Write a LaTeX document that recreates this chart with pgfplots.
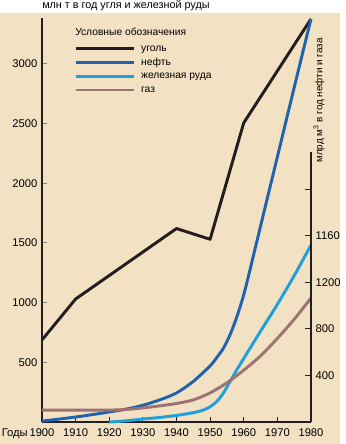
\documentclass[border=0pt]{standalone}
\usepackage{pgfplots}
\pgfplotsset{compat=1.18}
\usepackage{fontspec}
\setmainfont{Liberation Sans}
\definecolor{bg}{HTML}{F2E1C3}
\definecolor{coal}{HTML}{221E1F}
\definecolor{oil}{HTML}{1F62AE}
\definecolor{ore}{HTML}{1FA0DC}
\definecolor{gas}{HTML}{9C7272}
\definecolor{axc}{HTML}{231F20}
\begin{document}
\begin{tikzpicture}[x=1pt,y=1pt]
\fill[white] (-31.5,-16.5) rectangle (223.5,316.5);
\fill[bg] (-31.5,-16.5) rectangle (223.5,306.75);
\node[anchor=base west, inner sep=0pt, font=\fontsize{8.1}{9}\selectfont] at (0,310.5) {млн т в год угля и железной руды};
\node[anchor=base west, inner sep=0pt, font=\fontsize{7.7}{9}\selectfont] at (24.75,290.0) {Условные обозначения};
\node[rotate=90, inner sep=0pt, font=\fontsize{7.4}{9}\selectfont] at (207.75,241.1) {млрд м\textsuperscript{3} в год нефти и газа};
\begin{axis}[
  at={(0,0)}, anchor=south west, scale only axis,
  width=201.75pt, height=303pt,
  xmin=1900, xmax=1980, ymin=0, ymax=3383,
  axis x line=bottom, axis y line=left,
  axis line style={line width=1.6pt, color=axc, -},
  clip=false,
  xtick={1900,1910,1920,1930,1940,1950,1960,1970,1980},
  xticklabels={\llap{Годы\,}1900,1910,1920,1930,1940,1950,1960,1970,1980},
  ytick={500,1000,1500,2000,2500,3000},
  /pgf/number format/1000 sep={},
  /pgf/number format/assume math mode=true,
  tick align=inside, major tick length=3.5pt,
  x tick style={line width=0.6pt, color=axc},
  y tick style={line width=0.6pt, color=gray},
  ticklabel style={font=\fontsize{8.4}{9}\selectfont},
  xticklabel style={yshift=-1.3pt},
  legend style={at={(rel axis cs:0.119,0.936)}, anchor=north west, draw=none, fill=none,
    inner sep=0pt, row sep=3.3pt, column sep=4.5pt, font=\fontsize{7.7}{9}\selectfont,
    cells={anchor=west}, nodes={inner sep=0pt, text height=5.5pt, text depth=1.5pt}},
  legend image code/.code={\draw[#1, line width=2.2pt] (0pt,0pt) -- (43.5pt,0pt);},
  every axis plot/.append style={line width=2.2pt},
]
\addplot[coal, line join=round] coordinates {(1900,687) (1910,1030) (1940,1620) (1950,1530) (1960,2505) (1980,3375)};
\addlegendentry{уголь}
\addplot[oil, smooth] coordinates {(1900,8) (1905,24) (1910,42) (1915,62) (1920,84) (1925,108) (1930,140) (1935,185) (1940,243) (1945,340) (1950,470) (1952,540) (1954,620) (1956,735) (1958,885) (1960,1065) (1962,1290) (1965,1640) (1970,2220) (1975,2800) (1980,3375)};
\addlegendentry{нефть}
\addplot[ore, smooth] coordinates {(1920,0) (1925,10) (1930,25) (1935,38) (1940,55) (1945,78) (1948,100) (1950,128) (1952,172) (1954,245) (1956,342) (1958,440) (1960,532) (1965,760) (1970,985) (1975,1225) (1980,1482)};
\addlegendentry{железная руда}
\addplot[gas, smooth] coordinates {(1900,100) (1910,100) (1920,100) (1925,105) (1930,118) (1935,135) (1940,155) (1945,185) (1950,244) (1955,328) (1960,434) (1965,554) (1970,700) (1975,860) (1980,1038)};
\addlegendentry{газ}
\end{axis}
\begin{axis}[
  at={(0,0)}, anchor=south west, scale only axis,
  width=201.75pt, height=202.5pt,
  xmin=1900, xmax=1980, ymin=0, ymax=2318,
  axis y line=right, axis x line=none, xtick=\empty,
  axis line style={line width=1.6pt, color=axc, -},
  ytick={400,800,1200,1600,2000},
  yticklabels={400,800,1200,1160,{}},
  tick align=inside, major tick length=4.5pt,
  y tick style={line width=0.6pt, color=axc},
  ticklabel style={font=\fontsize{8.4}{9}\selectfont},
]
\end{axis}
\end{tikzpicture}
\end{document}
